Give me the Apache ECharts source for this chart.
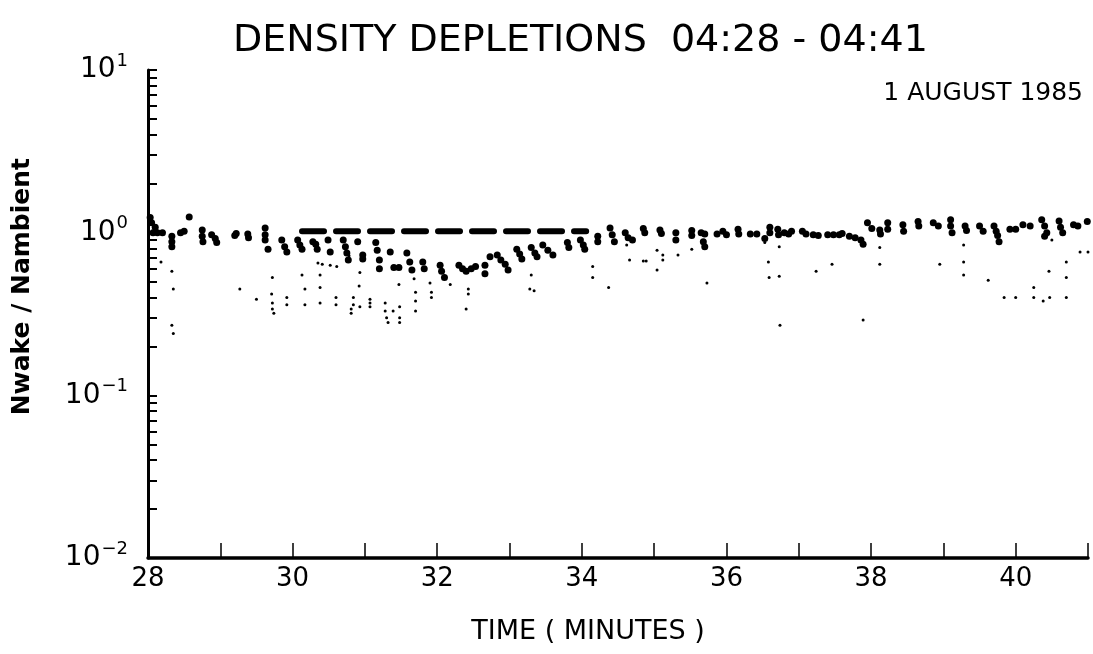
<!DOCTYPE html>
<html>
<head>
<meta charset="utf-8">
<style>html,body{margin:0;padding:0;background:#fff;}#chart{width:1093px;height:654px;}</style>
<script src="https://cdn.jsdelivr.net/npm/echarts@6/dist/echarts.min.js"></script>
</head>
<body>
<div id="chart"></div>
<script>
// ---- data (time in minutes after 04:00 UT, density ratio) ----
const titleText = 'DENSITY DEPLETIONS  04:28 - 04:41';
const dateText = '1 AUGUST 1985';
const xAxisTitle = 'TIME ( MINUTES )';
const yAxisTitle = 'Nwake / Nambient';
const xTickLabels = [28, 30, 32, 34, 36, 38, 40];
const yMajorTicks = [0.01, 0.1, 1, 10];

// dense upper cluster of measurements
const upperPoints = [
[28.07,1.0],[28.13,1.0],[28.2,1.0],[28.1,1.08],[28.03,1.24],[28.05,1.15],
[28.33,0.95],[28.33,0.88],[28.33,0.82],
[28.45,1.0],[28.5,1.02],[28.57,1.25],
[28.75,1.04],[28.75,0.95],[28.76,0.88],
[28.88,0.97],[28.93,0.92],[28.95,0.87],
[29.2,0.96],[29.22,0.99],
[29.38,0.98],[29.39,0.93],
[29.62,1.07],[29.62,0.97],[29.62,0.9],[29.66,0.79],
[29.85,0.9],[29.89,0.82],[29.92,0.76],
[30.07,0.9],[30.1,0.84],[30.13,0.79],
[30.28,0.88],[30.32,0.85],[30.34,0.79],
[30.49,0.9],[30.52,0.76],
[30.7,0.9],[30.73,0.82],[30.75,0.75],[30.77,0.68],
[30.9,0.88],
[30.97,0.73],[30.97,0.69],
[31.15,0.87],[31.17,0.78],[31.2,0.68],[31.2,0.6],
[31.35,0.76],[31.4,0.61],[31.47,0.61],
[31.58,0.75],[31.62,0.66],[31.65,0.59],
[31.8,0.66],[31.82,0.6],
[32.04,0.63],[32.06,0.58],[32.1,0.53],
[32.3,0.63],[32.35,0.6],[32.4,0.58],
[32.47,0.6],[32.53,0.62],
[32.66,0.63],[32.66,0.56],[32.73,0.71],
[32.83,0.73],[32.88,0.68],[32.94,0.64],[32.98,0.59],
[33.1,0.79],[33.14,0.74],[33.17,0.69],
[33.3,0.81],[33.35,0.75],[33.38,0.71],
[33.46,0.84],[33.53,0.78],[33.6,0.73],
[33.8,0.87],[33.82,0.81],
[33.98,0.9],[34.02,0.84],[34.04,0.79],
[34.22,0.95],[34.22,0.88],
[34.39,1.07],[34.42,0.97],[34.45,0.88],
[34.6,1.0],[34.64,0.93],[34.7,0.9],
[34.85,1.06],[34.87,1.0],
[35.08,1.04],[35.1,0.99],
[35.3,1.0],[35.3,0.9],
[35.52,1.03],[35.52,0.96],
[35.65,1.0],[35.7,0.98],[35.68,0.88],[35.7,0.82],
[35.87,0.98],
[35.95,1.02],[36.0,0.97],
[36.16,1.05],[36.17,0.98],
[36.33,0.98],[36.42,0.98],
[36.53,0.92],[36.6,1.08],[36.6,1.0],
[36.71,1.05],[36.72,0.97],
[36.8,1.0],[36.86,0.98],[36.9,1.02],
[37.05,1.02],[37.1,0.98],
[37.2,0.97],[37.27,0.96],
[37.4,0.97],[37.48,0.97],[37.56,0.97],[37.6,0.99],
[37.7,0.95],[37.78,0.93],
[37.86,0.9],[37.89,0.85],
[37.95,1.15],
[38.01,1.06],[38.12,1.04],[38.13,0.98],
[38.23,1.15],[38.23,1.05],
[38.44,1.12],[38.45,1.02],
[38.65,1.17],[38.66,1.1],
[38.86,1.15],[38.93,1.1],
[39.1,1.2],[39.1,1.1],[39.12,1.0],
[39.3,1.1],[39.32,1.03],
[39.5,1.1],[39.55,1.02],
[39.7,1.1],[39.73,1.02],[39.75,0.96],[39.77,0.88],
[39.92,1.05],[40.0,1.05],
[40.1,1.12],[40.2,1.1],
[40.36,1.2],[40.4,1.1],[40.43,1.0],[40.4,0.95],
[40.6,1.18],[40.62,1.08],[40.65,1.0],
[40.8,1.12],[40.86,1.1],
[40.99,1.17]
];

// sparse lower isolated measurements
const lowerPoints = [
[28.18,0.66],[28.33,0.58],[28.35,0.45],[28.33,0.27],[28.35,0.24],
[29.27,0.45],[29.5,0.39],[29.72,0.53],[29.71,0.42],[29.72,0.37],[29.72,0.34],[29.74,0.32],
[29.92,0.4],[29.92,0.36],[30.13,0.55],[30.17,0.45],[30.17,0.36],
[30.35,0.65],[30.41,0.64],[30.38,0.55],[30.38,0.46],[30.38,0.37],
[30.52,0.63],[30.61,0.62],[30.6,0.4],[30.6,0.36],
[30.78,0.72],[30.84,0.4],[30.84,0.36],[30.81,0.34],[30.81,0.32],
[30.93,0.57],[30.92,0.47],[30.93,0.35],
[31.07,0.39],[31.07,0.37],[31.07,0.35],
[31.28,0.37],[31.28,0.33],[31.3,0.3],[31.32,0.28],
[31.39,0.33],[31.47,0.48],[31.48,0.35],[31.48,0.3],[31.48,0.28],
[31.68,0.52],[31.7,0.43],[31.7,0.38],[31.7,0.33],
[31.9,0.49],[31.92,0.43],[31.92,0.4],
[32.18,0.48],[32.4,0.34],[32.43,0.45],[32.43,0.42],
[33.3,0.55],[33.28,0.45],[33.34,0.44],
[34.15,0.62],[34.15,0.53],[34.37,0.46],
[34.62,0.84],[34.66,0.68],[34.85,0.67],[34.89,0.67],
[35.04,0.78],[35.04,0.59],[35.12,0.73],[35.12,0.68],[35.33,0.73],
[35.52,0.79],[35.7,0.8],[35.73,0.49],
[36.53,0.87],[36.58,0.66],[36.59,0.53],[36.73,0.82],[36.73,0.54],[36.74,0.27],
[37.24,0.58],[37.46,0.64],[37.89,0.29],
[38.12,0.81],[38.12,0.64],[38.95,0.64],
[39.28,0.84],[39.28,0.66],[39.28,0.55],[39.62,0.51],
[39.84,0.4],[40.0,0.4],[40.25,0.46],[40.25,0.4],[40.38,0.38],
[40.46,0.58],[40.47,0.4],[40.7,0.66],[40.7,0.53],[40.7,0.4],
[40.89,0.76],[41.0,0.76],[40.5,0.9]
];

// dashed reference level
const refTimes = [30.13, 34.06];
const refRatios = [1.02, 1.02];

// ---- derived tick lists ----
const yAllTicks = [];
for (let i = 0; i < yMajorTicks.length; i++) {
  const base = yMajorTicks[i];
  yAllTicks.push(base);
  if (i < yMajorTicks.length - 1) {
    for (let k = 2; k <= 9; k++) yAllTicks.push(+(base * k).toPrecision(6));
  }
}

const FONT = 'DejaVu Sans';
const chart = echarts.init(document.getElementById('chart'), null, {renderer: 'canvas'});
chart.setOption({
  backgroundColor: '#ffffff',
  animation: false,
  title: [
    {text: titleText, left: 228, top: 17,
     textStyle: {fontFamily: FONT, fontSize: 38, fontWeight: 'normal', color: '#000'}},
    {text: dateText, right: 5, top: 76,
     textStyle: {fontFamily: FONT, fontSize: 25, fontWeight: 'normal', color: '#000'}}
  ],
  graphic: [
    {type: 'text', left: 10, top: 158, rotation: Math.PI / 2,
     style: {text: yAxisTitle, fontFamily: FONT, fontSize: 25, fontWeight: 'bold', fill: '#000'}}
  ],
  grid: {left: 148, right: 5, top: 70, bottom: 96},
  xAxis: {
    type: 'value', min: 28, max: 41, interval: 1,
    name: xAxisTitle, nameLocation: 'middle', nameGap: 60,
    nameTextStyle: {fontFamily: FONT, fontSize: 27, color: '#000', padding: [0, 60, 0, 0]},
    axisLine: {lineStyle: {color: '#000', width: 3.5}},
    axisTick: {inside: true, length: 15, lineStyle: {color: '#000', width: 1.5}},
    axisLabel: {
      margin: 8, fontFamily: FONT, fontSize: 26, color: '#000',
      formatter: v => (xTickLabels.indexOf(v) >= 0 ? String(v) : '')
    },
    splitLine: {show: false}
  },
  yAxis: {
    type: 'log', logBase: 10, min: 0.01, max: 10,
    axisLine: {lineStyle: {color: '#000', width: 3}},
    axisTick: {inside: true, length: 9, customValues: yAllTicks, lineStyle: {color: '#000', width: 2}},
    axisLabel: {
      margin: 20, customValues: yMajorTicks,
      formatter: v => {
        const e = Math.round(Math.log10(v));
        return '{b|10}{s|' + (e < 0 ? '\u2212' + (-e) : e) + '}';
      },
      rich: {
        b: {fontFamily: FONT, fontSize: 28, color: '#000'},
        s: {fontFamily: FONT, fontSize: 18, color: '#000', padding: [0, 0, 18, 1]}
      }
    },
    splitLine: {show: false},
    minorTick: {show: false}
  },
  series: [
    {type: 'scatter', data: upperPoints, symbol: 'circle', symbolSize: 7,
     itemStyle: {color: '#000', opacity: 1}, silent: true},
    {type: 'scatter', data: lowerPoints, symbol: 'circle', symbolSize: 3,
     itemStyle: {color: '#000', opacity: 1}, silent: true},
    {type: 'line', data: refTimes.map((t, i) => [t, refRatios[i]]), symbol: 'none',
     lineStyle: {color: '#000', width: 6, type: [22, 12], cap: 'round'}, silent: true}
  ]
});
</script>
</body>
</html>
